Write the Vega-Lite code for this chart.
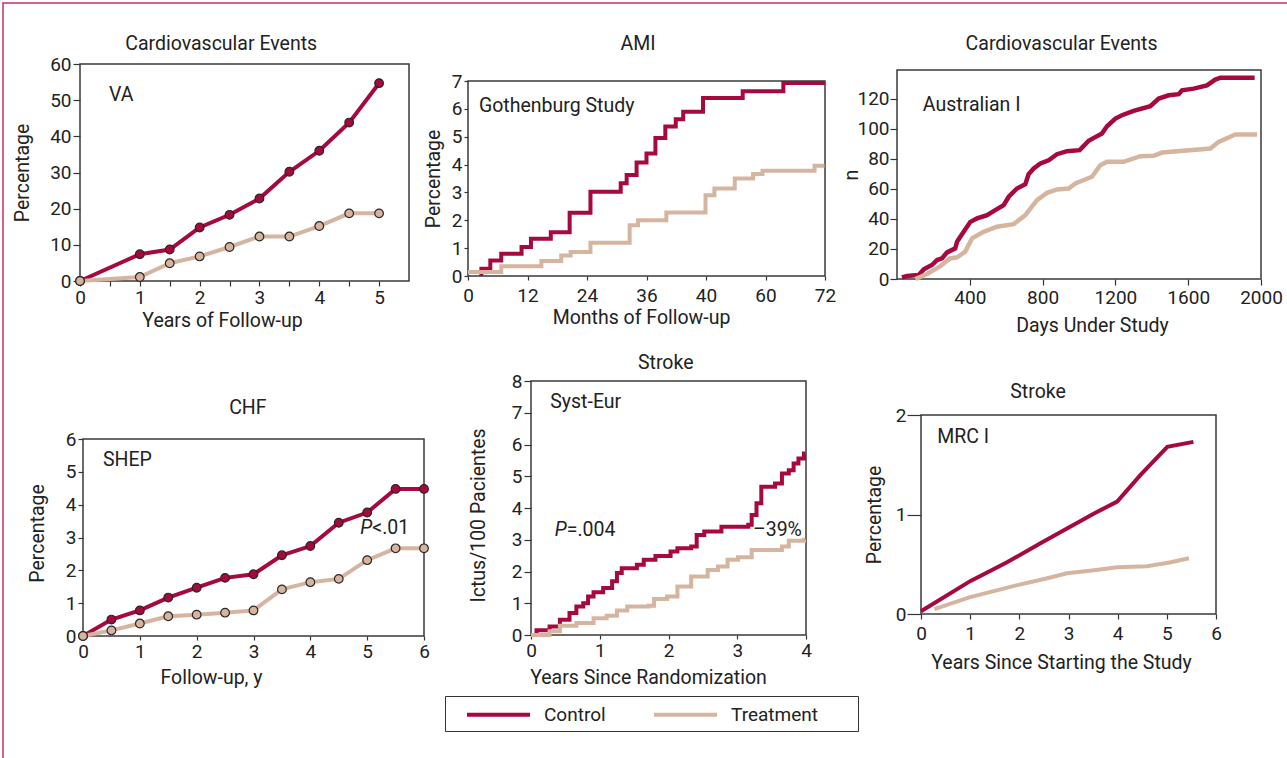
{
  "$schema": "https://vega.github.io/schema/vega-lite/v6.json",
  "width": 1284,
  "height": 755,
  "padding": {"left": 3, "top": 3, "right": 0, "bottom": 0},
  "autosize": {"type": "none"},
  "background": "white",
  "config": {
    "font": "Roboto, sans-serif",
    "view": {"stroke": "#c8325f", "strokeWidth": 1.5, "strokeDash": [1284, 2039]},
    "axis": {
      "grid": false,
      "domain": false,
      "format": "d",
      "labelFontSize": 19,
      "labelColor": "#222",
      "labelFlush": false,
      "labelOverlap": false,
      "titleFontSize": 19.5,
      "titleFontWeight": "normal",
      "titleColor": "#222",
      "tickColor": "#333",
      "tickWidth": 1.2
    },
    "text": {"fontSize": 19.5, "color": "#222"}
  },
  "datasets": {
    "va": [
      {"arm": "Control", "t": 0, "value": 0},
      {"arm": "Control", "t": 1, "value": 7.4},
      {"arm": "Control", "t": 1.5, "value": 8.7},
      {"arm": "Control", "t": 2, "value": 14.8},
      {"arm": "Control", "t": 2.5, "value": 18.3},
      {"arm": "Control", "t": 3, "value": 22.8},
      {"arm": "Control", "t": 3.5, "value": 30.2},
      {"arm": "Control", "t": 4, "value": 36},
      {"arm": "Control", "t": 4.5, "value": 43.8},
      {"arm": "Control", "t": 5, "value": 54.7},
      {"arm": "Treatment", "t": 0, "value": 0},
      {"arm": "Treatment", "t": 1, "value": 1.1},
      {"arm": "Treatment", "t": 1.5, "value": 4.9},
      {"arm": "Treatment", "t": 2, "value": 6.8},
      {"arm": "Treatment", "t": 2.5, "value": 9.4},
      {"arm": "Treatment", "t": 3, "value": 12.3},
      {"arm": "Treatment", "t": 3.5, "value": 12.3},
      {"arm": "Treatment", "t": 4, "value": 15.2},
      {"arm": "Treatment", "t": 4.5, "value": 18.7},
      {"arm": "Treatment", "t": 5, "value": 18.7}
    ],
    "ami": [
      {"arm": "Control", "t": 2.7, "value": 0},
      {"arm": "Control", "t": 2.7, "value": 0.26},
      {"arm": "Control", "t": 4.5, "value": 0.56},
      {"arm": "Control", "t": 6.7, "value": 0.8},
      {"arm": "Control", "t": 10.8, "value": 1.04},
      {"arm": "Control", "t": 12.7, "value": 1.34},
      {"arm": "Control", "t": 16.7, "value": 1.57},
      {"arm": "Control", "t": 20.5, "value": 2.27},
      {"arm": "Control", "t": 24.7, "value": 3.02},
      {"arm": "Control", "t": 30.8, "value": 3.33},
      {"arm": "Control", "t": 32.0, "value": 3.63},
      {"arm": "Control", "t": 34.0, "value": 4.07},
      {"arm": "Control", "t": 36.0, "value": 4.4},
      {"arm": "Control", "t": 37.8, "value": 4.95},
      {"arm": "Control", "t": 39.8, "value": 5.37},
      {"arm": "Control", "t": 41.9, "value": 5.63},
      {"arm": "Control", "t": 43.4, "value": 5.9},
      {"arm": "Control", "t": 47.4, "value": 6.39},
      {"arm": "Control", "t": 55.4, "value": 6.63},
      {"arm": "Control", "t": 63.6, "value": 6.93},
      {"arm": "Control", "t": 72, "value": 6.93},
      {"arm": "Treatment", "t": 0, "value": 0.14},
      {"arm": "Treatment", "t": 6.7, "value": 0.35},
      {"arm": "Treatment", "t": 14.8, "value": 0.54},
      {"arm": "Treatment", "t": 18.8, "value": 0.74},
      {"arm": "Treatment", "t": 20.7, "value": 0.86},
      {"arm": "Treatment", "t": 24.7, "value": 1.19},
      {"arm": "Treatment", "t": 32.6, "value": 1.82},
      {"arm": "Treatment", "t": 34.3, "value": 2.0},
      {"arm": "Treatment", "t": 40.0, "value": 2.28},
      {"arm": "Treatment", "t": 47.9, "value": 2.9},
      {"arm": "Treatment", "t": 49.7, "value": 3.14},
      {"arm": "Treatment", "t": 53.8, "value": 3.5},
      {"arm": "Treatment", "t": 57.5, "value": 3.66},
      {"arm": "Treatment", "t": 59.4, "value": 3.78},
      {"arm": "Treatment", "t": 69.9, "value": 3.96},
      {"arm": "Treatment", "t": 71.9, "value": 3.96}
    ],
    "aus": [
      {"arm": "Control", "t": 27, "value": 1.1},
      {"arm": "Control", "t": 55, "value": 2},
      {"arm": "Control", "t": 119, "value": 2.7},
      {"arm": "Control", "t": 147, "value": 6.4},
      {"arm": "Control", "t": 192, "value": 9.3},
      {"arm": "Control", "t": 220, "value": 12.6},
      {"arm": "Control", "t": 247, "value": 13.7},
      {"arm": "Control", "t": 275, "value": 17.7},
      {"arm": "Control", "t": 320, "value": 20.4},
      {"arm": "Control", "t": 330, "value": 24.8},
      {"arm": "Control", "t": 357, "value": 29.7},
      {"arm": "Control", "t": 403, "value": 38},
      {"arm": "Control", "t": 440, "value": 40.3},
      {"arm": "Control", "t": 495, "value": 42.5},
      {"arm": "Control", "t": 540, "value": 45.8},
      {"arm": "Control", "t": 586, "value": 49.1},
      {"arm": "Control", "t": 614, "value": 54.7},
      {"arm": "Control", "t": 659, "value": 60.2},
      {"arm": "Control", "t": 705, "value": 63.1},
      {"arm": "Control", "t": 723, "value": 69.7},
      {"arm": "Control", "t": 751, "value": 73.5},
      {"arm": "Control", "t": 788, "value": 76.8},
      {"arm": "Control", "t": 833, "value": 79},
      {"arm": "Control", "t": 879, "value": 83},
      {"arm": "Control", "t": 934, "value": 85},
      {"arm": "Control", "t": 1004, "value": 85.7},
      {"arm": "Control", "t": 1053, "value": 91.9},
      {"arm": "Control", "t": 1099, "value": 95},
      {"arm": "Control", "t": 1126, "value": 96.7},
      {"arm": "Control", "t": 1154, "value": 101.6},
      {"arm": "Control", "t": 1200, "value": 106.7},
      {"arm": "Control", "t": 1236, "value": 108.9},
      {"arm": "Control", "t": 1300, "value": 111.8},
      {"arm": "Control", "t": 1392, "value": 114.9},
      {"arm": "Control", "t": 1438, "value": 120},
      {"arm": "Control", "t": 1493, "value": 122.2},
      {"arm": "Control", "t": 1548, "value": 122.9},
      {"arm": "Control", "t": 1566, "value": 125.5},
      {"arm": "Control", "t": 1630, "value": 126.6},
      {"arm": "Control", "t": 1703, "value": 128.8},
      {"arm": "Control", "t": 1749, "value": 132.6},
      {"arm": "Control", "t": 1777, "value": 133.9},
      {"arm": "Control", "t": 1965, "value": 133.9},
      {"arm": "Treatment", "t": 101, "value": 0},
      {"arm": "Treatment", "t": 165, "value": 3.3},
      {"arm": "Treatment", "t": 238, "value": 8.6},
      {"arm": "Treatment", "t": 291, "value": 13.7},
      {"arm": "Treatment", "t": 330, "value": 14.4},
      {"arm": "Treatment", "t": 375, "value": 18.2},
      {"arm": "Treatment", "t": 412, "value": 27},
      {"arm": "Treatment", "t": 476, "value": 31.4},
      {"arm": "Treatment", "t": 549, "value": 34.8},
      {"arm": "Treatment", "t": 641, "value": 36.5},
      {"arm": "Treatment", "t": 705, "value": 42.5},
      {"arm": "Treatment", "t": 769, "value": 52.5},
      {"arm": "Treatment", "t": 824, "value": 57.3},
      {"arm": "Treatment", "t": 879, "value": 59.6},
      {"arm": "Treatment", "t": 943, "value": 60.2},
      {"arm": "Treatment", "t": 980, "value": 63.5},
      {"arm": "Treatment", "t": 1071, "value": 68},
      {"arm": "Treatment", "t": 1117, "value": 75.7},
      {"arm": "Treatment", "t": 1154, "value": 77.9},
      {"arm": "Treatment", "t": 1245, "value": 77.9},
      {"arm": "Treatment", "t": 1337, "value": 81.7},
      {"arm": "Treatment", "t": 1410, "value": 81.9},
      {"arm": "Treatment", "t": 1456, "value": 84.1},
      {"arm": "Treatment", "t": 1722, "value": 86.8},
      {"arm": "Treatment", "t": 1767, "value": 91.2},
      {"arm": "Treatment", "t": 1859, "value": 96.1},
      {"arm": "Treatment", "t": 1978, "value": 96.1}
    ],
    "shep": [
      {"arm": "Control", "t": 0, "value": 0},
      {"arm": "Control", "t": 0.5, "value": 0.5},
      {"arm": "Control", "t": 1, "value": 0.78},
      {"arm": "Control", "t": 1.5, "value": 1.17},
      {"arm": "Control", "t": 2, "value": 1.47},
      {"arm": "Control", "t": 2.5, "value": 1.77},
      {"arm": "Control", "t": 3, "value": 1.88},
      {"arm": "Control", "t": 3.5, "value": 2.46},
      {"arm": "Control", "t": 4, "value": 2.74},
      {"arm": "Control", "t": 4.5, "value": 3.45},
      {"arm": "Control", "t": 5, "value": 3.76},
      {"arm": "Control", "t": 5.5, "value": 4.48},
      {"arm": "Control", "t": 6, "value": 4.48},
      {"arm": "Treatment", "t": 0, "value": 0},
      {"arm": "Treatment", "t": 0.5, "value": 0.17},
      {"arm": "Treatment", "t": 1, "value": 0.38},
      {"arm": "Treatment", "t": 1.5, "value": 0.6},
      {"arm": "Treatment", "t": 2, "value": 0.65},
      {"arm": "Treatment", "t": 2.5, "value": 0.71},
      {"arm": "Treatment", "t": 3, "value": 0.78},
      {"arm": "Treatment", "t": 3.5, "value": 1.42},
      {"arm": "Treatment", "t": 4, "value": 1.64},
      {"arm": "Treatment", "t": 4.5, "value": 1.74},
      {"arm": "Treatment", "t": 5, "value": 2.31},
      {"arm": "Treatment", "t": 5.5, "value": 2.67},
      {"arm": "Treatment", "t": 6, "value": 2.67}
    ],
    "syst": [
      {"arm": "Control", "t": 0, "value": 0},
      {"arm": "Control", "t": 0.08, "value": 0.15},
      {"arm": "Control", "t": 0.27, "value": 0.27},
      {"arm": "Control", "t": 0.42, "value": 0.48},
      {"arm": "Control", "t": 0.56, "value": 0.69},
      {"arm": "Control", "t": 0.66, "value": 0.9},
      {"arm": "Control", "t": 0.76, "value": 1.0},
      {"arm": "Control", "t": 0.83, "value": 1.21},
      {"arm": "Control", "t": 0.91, "value": 1.35},
      {"arm": "Control", "t": 1.05, "value": 1.48},
      {"arm": "Control", "t": 1.18, "value": 1.69},
      {"arm": "Control", "t": 1.25, "value": 1.95},
      {"arm": "Control", "t": 1.32, "value": 2.1},
      {"arm": "Control", "t": 1.54, "value": 2.21},
      {"arm": "Control", "t": 1.64, "value": 2.37},
      {"arm": "Control", "t": 1.81, "value": 2.49},
      {"arm": "Control", "t": 2.03, "value": 2.63},
      {"arm": "Control", "t": 2.13, "value": 2.73},
      {"arm": "Control", "t": 2.33, "value": 2.79},
      {"arm": "Control", "t": 2.41, "value": 3.15},
      {"arm": "Control", "t": 2.52, "value": 3.26},
      {"arm": "Control", "t": 2.77, "value": 3.41},
      {"arm": "Control", "t": 3.16, "value": 3.47},
      {"arm": "Control", "t": 3.21, "value": 3.78},
      {"arm": "Control", "t": 3.28, "value": 4.15},
      {"arm": "Control", "t": 3.35, "value": 4.67},
      {"arm": "Control", "t": 3.55, "value": 4.77},
      {"arm": "Control", "t": 3.65, "value": 5.09},
      {"arm": "Control", "t": 3.75, "value": 5.19},
      {"arm": "Control", "t": 3.82, "value": 5.4},
      {"arm": "Control", "t": 3.89, "value": 5.56},
      {"arm": "Control", "t": 3.97, "value": 5.72},
      {"arm": "Control", "t": 3.99, "value": 5.72},
      {"arm": "Treatment", "t": 0, "value": 0},
      {"arm": "Treatment", "t": 0.27, "value": 0.12},
      {"arm": "Treatment", "t": 0.42, "value": 0.29},
      {"arm": "Treatment", "t": 0.66, "value": 0.38},
      {"arm": "Treatment", "t": 0.91, "value": 0.53},
      {"arm": "Treatment", "t": 1.1, "value": 0.61},
      {"arm": "Treatment", "t": 1.25, "value": 0.77},
      {"arm": "Treatment", "t": 1.4, "value": 0.9},
      {"arm": "Treatment", "t": 1.71, "value": 0.92},
      {"arm": "Treatment", "t": 1.79, "value": 1.13},
      {"arm": "Treatment", "t": 1.98, "value": 1.21},
      {"arm": "Treatment", "t": 2.13, "value": 1.53},
      {"arm": "Treatment", "t": 2.33, "value": 1.84},
      {"arm": "Treatment", "t": 2.57, "value": 2.05},
      {"arm": "Treatment", "t": 2.72, "value": 2.16},
      {"arm": "Treatment", "t": 2.86, "value": 2.37},
      {"arm": "Treatment", "t": 3.01, "value": 2.45},
      {"arm": "Treatment", "t": 3.21, "value": 2.68},
      {"arm": "Treatment", "t": 3.65, "value": 2.79},
      {"arm": "Treatment", "t": 3.75, "value": 2.97},
      {"arm": "Treatment", "t": 3.97, "value": 3.0},
      {"arm": "Treatment", "t": 3.99, "value": 3.0}
    ],
    "mrc": [
      {"arm": "Control", "t": 0, "value": 0.027},
      {"arm": "Control", "t": 1, "value": 0.33},
      {"arm": "Control", "t": 1.75, "value": 0.52},
      {"arm": "Control", "t": 2.43, "value": 0.71},
      {"arm": "Control", "t": 2.97, "value": 0.86},
      {"arm": "Control", "t": 3.52, "value": 1.01},
      {"arm": "Control", "t": 3.99, "value": 1.13},
      {"arm": "Control", "t": 4.47, "value": 1.4},
      {"arm": "Control", "t": 5.01, "value": 1.68},
      {"arm": "Control", "t": 5.54, "value": 1.73},
      {"arm": "Treatment", "t": 0.27, "value": 0.05},
      {"arm": "Treatment", "t": 1, "value": 0.17},
      {"arm": "Treatment", "t": 1.96, "value": 0.29},
      {"arm": "Treatment", "t": 2.57, "value": 0.36},
      {"arm": "Treatment", "t": 2.97, "value": 0.41},
      {"arm": "Treatment", "t": 3.52, "value": 0.44},
      {"arm": "Treatment", "t": 3.99, "value": 0.47},
      {"arm": "Treatment", "t": 4.6, "value": 0.48},
      {"arm": "Treatment", "t": 5.08, "value": 0.52},
      {"arm": "Treatment", "t": 5.45, "value": 0.56}
    ]
  },
  "layer": [
    {
      "data": {"name": "va"},
      "encoding": {
        "x": {"field": "t", "type": "quantitative",
          "scale": {"domain": [0, 5.5], "range": [77, 406], "nice": false, "zero": false},
          "axis": {"orient": "bottom", "offset": -477, "values": [0, 0.5, 1, 1.5, 2, 2.5, 3, 3.5, 4, 4.5, 5],
            "labelExpr": "datum.value % 1 === 0 ? format(datum.value, 'd') : ''",
            "tickSize": 5, "labelPadding": 2, "title": "Years of Follow-up", "titlePadding": 4, "titleX": 219}},
        "y": {"field": "value", "type": "quantitative",
          "scale": {"domain": [0, 60], "range": [278, 61], "nice": false, "zero": false},
          "axis": {"orient": "left", "offset": -77, "values": [0, 10, 20, 30, 40, 50, 60],
            "tickSize": 7, "labelPadding": 2, "title": "Percentage", "titlePadding": 17}}
      },
      "layer": [
        {"transform": [{"aggregate": [{"op": "count", "as": "n"}]}],
         "mark": {"type": "rect", "fill": "transparent", "stroke": "#3a3a3a", "strokeWidth": 1.5, "invalid": null},
         "encoding": {"x": {"datum": 0}, "x2": {"datum": 5.5}, "y": {"datum": 0}, "y2": {"datum": 60}}},
        {"mark": {"type": "line", "strokeWidth": 4},
         "encoding": {"color": {"field": "arm", "type": "nominal",
           "scale": {"domain": ["Control", "Treatment"], "range": ["#a6093d", "#d6b5a0"]},
           "legend": {"title": " ", "titleOrient": "right", "titlePadding": 34, "orient": "none", "legendX": 442, "legendY": 693, "direction": "horizontal",
             "symbolType": "M-3,0H3", "symbolSize": 441, "symbolStrokeWidth": 4, "symbolOffset": 35,
             "labelOffset": 33, "labelFontSize": 19, "labelColor": "#222", "strokeColor": "#333",
             "padding": 6, "columnPadding": 32}}}},
        {"mark": {"type": "point", "filled": true, "size": 75, "opacity": 1, "stroke": "#2e2424", "strokeWidth": 1.2},
         "encoding": {"color": {"field": "arm", "type": "nominal", "legend": null}}},
        {"data": {"values": [{"label": "VA", "t": 0.485, "value": 51.4}]},
         "mark": {"type": "text", "align": "left", "baseline": "middle"},
         "encoding": {"text": {"field": "label"}}},
        {"data": {"values": [{"label": "Cardiovascular Events", "t": 2.36, "value": 65.5}]},
         "mark": {"type": "text", "align": "center", "baseline": "middle"},
         "encoding": {"text": {"field": "label"}}}
      ]
    },
    {
      "data": {"name": "ami"},
      "encoding": {
        "x": {"field": "t", "type": "quantitative",
          "scale": {"domain": [0, 72], "range": [465, 822], "nice": false, "zero": false},
          "axis": {"orient": "bottom", "offset": -482, "values": [0, 12, 24, 36, 48, 60, 72],
            "labelExpr": "datum.value === 48 ? '40' : datum.label",
            "tickSize": 4, "labelPadding": 6, "title": "Months of Follow-up", "titlePadding": 3, "titleX": 638}},
        "y": {"field": "value", "type": "quantitative",
          "scale": {"domain": [0, 7], "range": [273, 78], "nice": false, "zero": false},
          "axis": {"orient": "left", "offset": -465, "values": [0, 1, 2, 3, 4, 5, 6, 7],
            "tickSize": 4, "labelPadding": 2, "title": "Percentage", "titlePadding": 8}}
      },
      "layer": [
        {"transform": [{"aggregate": [{"op": "count", "as": "n"}]}],
         "mark": {"type": "rect", "fill": "transparent", "stroke": "#3a3a3a", "strokeWidth": 1.5, "invalid": null},
         "encoding": {"x": {"datum": 0}, "x2": {"datum": 72}, "y": {"datum": 0}, "y2": {"datum": 7}}},
        {"mark": {"type": "line", "strokeWidth": 4, "interpolate": "step-after", "strokeJoin": "miter"},
         "encoding": {"color": {"field": "arm", "type": "nominal", "legend": null}}},
        {"data": {"values": [{"label": "Gothenburg Study", "t": 2.2, "value": 6.1}]},
         "mark": {"type": "text", "align": "left", "baseline": "middle"},
         "encoding": {"text": {"field": "label"}}},
        {"data": {"values": [{"label": "AMI", "t": 34.3, "value": 8.33}]},
         "mark": {"type": "text", "align": "center", "baseline": "middle"},
         "encoding": {"text": {"field": "label"}}}
      ]
    },
    {
      "data": {"name": "aus"},
      "encoding": {
        "x": {"field": "t", "type": "quantitative",
          "scale": {"domain": [0, 2000], "range": [894, 1258], "nice": false, "zero": false},
          "axis": {"orient": "bottom", "offset": -479, "values": [400, 800, 1200, 1600, 2000],
            "tickSize": 6, "labelPadding": 3, "title": "Days Under Study", "titlePadding": 9, "titleX": 1089}},
        "y": {"field": "value", "type": "quantitative",
          "scale": {"domain": [0, 139], "range": [276, 67], "nice": false, "zero": false},
          "axis": {"orient": "left", "offset": -894, "values": [0, 20, 40, 60, 80, 100, 120],
            "tickSize": 7, "labelPadding": 1, "title": "n", "titlePadding": -5}}
      },
      "layer": [
        {"transform": [{"aggregate": [{"op": "count", "as": "n"}]}],
         "mark": {"type": "rect", "fill": "transparent", "stroke": "#3a3a3a", "strokeWidth": 1.5, "invalid": null},
         "encoding": {"x": {"datum": 0}, "x2": {"datum": 2000}, "y": {"datum": 0}, "y2": {"datum": 139}}},
        {"mark": {"type": "line", "strokeWidth": 4.5},
         "encoding": {"color": {"field": "arm", "type": "nominal", "legend": null}}},
        {"data": {"values": [{"label": "Australian I", "t": 142, "value": 115.5}]},
         "mark": {"type": "text", "align": "left", "baseline": "middle"},
         "encoding": {"text": {"field": "label"}}},
        {"data": {"values": [{"label": "Cardiovascular Events", "t": 904, "value": 156.3}]},
         "mark": {"type": "text", "align": "center", "baseline": "middle"},
         "encoding": {"text": {"field": "label"}}}
      ]
    },
    {
      "data": {"name": "shep"},
      "encoding": {
        "x": {"field": "t", "type": "quantitative",
          "scale": {"domain": [0, 6], "range": [80, 421], "nice": false, "zero": false},
          "axis": {"orient": "bottom", "offset": -122, "values": [0, 1, 2, 3, 4, 5, 6],
            "tickSize": 4, "labelPadding": 2, "title": "Follow-up, y", "titlePadding": 7, "titleX": 208}},
        "y": {"field": "value", "type": "quantitative",
          "scale": {"domain": [0, 6], "range": [633, 436], "nice": false, "zero": false},
          "axis": {"orient": "left", "offset": -80, "values": [0, 1, 2, 3, 4, 5, 6],
            "tickSize": 5, "labelPadding": 2, "title": "Percentage", "titlePadding": 18, "titleY": 530}}
      },
      "layer": [
        {"transform": [{"aggregate": [{"op": "count", "as": "n"}]}],
         "mark": {"type": "rect", "fill": "transparent", "stroke": "#3a3a3a", "strokeWidth": 1.5, "invalid": null},
         "encoding": {"x": {"datum": 0}, "x2": {"datum": 6}, "y": {"datum": 0}, "y2": {"datum": 6}}},
        {"mark": {"type": "line", "strokeWidth": 4},
         "encoding": {"color": {"field": "arm", "type": "nominal", "legend": null}}},
        {"mark": {"type": "point", "filled": true, "size": 75, "opacity": 1, "stroke": "#2e2424", "strokeWidth": 1.2},
         "encoding": {"color": {"field": "arm", "type": "nominal", "legend": null}}},
        {"data": {"values": [{"label": "SHEP", "t": 0.35, "value": 5.36}]},
         "mark": {"type": "text", "align": "left", "baseline": "middle"},
         "encoding": {"text": {"field": "label"}}},
        {"data": {"values": [{"label": "P", "t": 5.09, "value": 3.29}]},
         "mark": {"type": "text", "align": "right", "baseline": "middle", "fontStyle": "italic"},
         "encoding": {"text": {"field": "label"}}},
        {"data": {"values": [{"label": "<.01", "t": 5.09, "value": 3.29}]},
         "mark": {"type": "text", "align": "left", "baseline": "middle"},
         "encoding": {"text": {"field": "label"}}},
        {"data": {"values": [{"label": "CHF", "t": 2.9, "value": 6.94}]},
         "mark": {"type": "text", "align": "center", "baseline": "middle"},
         "encoding": {"text": {"field": "label"}}}
      ]
    },
    {
      "data": {"name": "syst"},
      "encoding": {
        "x": {"field": "t", "type": "quantitative",
          "scale": {"domain": [0, 4], "range": [528, 803], "nice": false, "zero": false},
          "axis": {"orient": "bottom", "offset": -123, "values": [0, 1, 2, 3, 4],
            "tickSize": 4, "labelPadding": 2, "title": "Years Since Randomization", "titlePadding": 8, "titleX": 645}},
        "y": {"field": "value", "type": "quantitative",
          "scale": {"domain": [0, 8], "range": [632, 378], "nice": false, "zero": false},
          "axis": {"orient": "left", "offset": -528, "values": [0, 1, 2, 3, 4, 5, 6, 7, 8],
            "tickSize": 7, "labelPadding": 2, "title": "Ictus/100 Pacientes", "titlePadding": 23, "titleY": 512}}
      },
      "layer": [
        {"transform": [{"aggregate": [{"op": "count", "as": "n"}]}],
         "mark": {"type": "rect", "fill": "transparent", "stroke": "#3a3a3a", "strokeWidth": 1.5, "invalid": null},
         "encoding": {"x": {"datum": 0}, "x2": {"datum": 4}, "y": {"datum": 0}, "y2": {"datum": 8}}},
        {"mark": {"type": "line", "strokeWidth": 4, "interpolate": "step-after", "strokeJoin": "miter"},
         "encoding": {"color": {"field": "arm", "type": "nominal", "legend": null}}},
        {"data": {"values": [{"label": "Syst-Eur", "t": 0.28, "value": 7.34}]},
         "mark": {"type": "text", "align": "left", "baseline": "middle"},
         "encoding": {"text": {"field": "label"}}},
        {"data": {"values": [{"label": "P", "t": 0.52, "value": 3.31}]},
         "mark": {"type": "text", "align": "right", "baseline": "middle", "fontStyle": "italic"},
         "encoding": {"text": {"field": "label"}}},
        {"data": {"values": [{"label": "=.004", "t": 0.52, "value": 3.31}]},
         "mark": {"type": "text", "align": "left", "baseline": "middle"},
         "encoding": {"text": {"field": "label"}}},
        {"data": {"values": [{"label": "–39%", "t": 3.94, "value": 3.31}]},
         "mark": {"type": "text", "align": "right", "baseline": "middle"},
         "encoding": {"text": {"field": "label"}}},
        {"data": {"values": [{"label": "Stroke", "t": 1.96, "value": 8.57}]},
         "mark": {"type": "text", "align": "center", "baseline": "middle"},
         "encoding": {"text": {"field": "label"}}}
      ]
    },
    {
      "data": {"name": "mrc"},
      "encoding": {
        "x": {"field": "t", "type": "quantitative",
          "scale": {"domain": [0, 6], "range": [918, 1213], "nice": false, "zero": false},
          "axis": {"orient": "bottom", "offset": -144, "values": [0, 1, 2, 3, 4, 5, 6],
            "tickSize": 5, "labelPadding": 5, "title": "Years Since Starting the Study", "titlePadding": 10, "titleX": 1058}},
        "y": {"field": "value", "type": "quantitative",
          "scale": {"domain": [0, 2], "range": [611, 412], "nice": false, "zero": false},
          "axis": {"orient": "left", "offset": -918, "values": [0, 1, 2],
            "tickSize": 14, "labelPadding": 1, "title": "Percentage", "titlePadding": 11}}
      },
      "layer": [
        {"transform": [{"aggregate": [{"op": "count", "as": "n"}]}],
         "mark": {"type": "rect", "fill": "transparent", "stroke": "#3a3a3a", "strokeWidth": 1.5, "invalid": null},
         "encoding": {"x": {"datum": 0}, "x2": {"datum": 6}, "y": {"datum": 0}, "y2": {"datum": 2}}},
        {"mark": {"type": "line", "strokeWidth": 4},
         "encoding": {"color": {"field": "arm", "type": "nominal", "legend": null}}},
        {"data": {"values": [{"label": "MRC I", "t": 0.33, "value": 1.78}]},
         "mark": {"type": "text", "align": "left", "baseline": "middle"},
         "encoding": {"text": {"field": "label"}}},
        {"data": {"values": [{"label": "Stroke", "t": 2.38, "value": 2.23}]},
         "mark": {"type": "text", "align": "center", "baseline": "middle"},
         "encoding": {"text": {"field": "label"}}}
      ]
    }
  ],
  "resolve": {
    "scale": {"x": "independent", "y": "independent"},
    "axis": {"x": "independent", "y": "independent"}
  }
}
